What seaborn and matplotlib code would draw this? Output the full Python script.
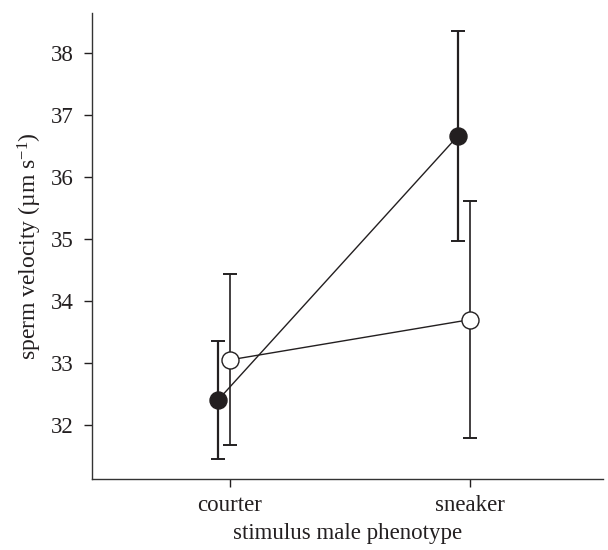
import matplotlib
matplotlib.use("Agg")
import matplotlib.pyplot as plt
import seaborn as sns
import pandas as pd
import numpy as np

# ---- data ----
categories = ["courter", "sneaker"]
groups = ["filled", "open"]
filled_mean = [32.40, 36.67]
filled_err = [0.95, 1.70]
open_mean = [33.05, 33.70]
open_err = [1.38, 1.91]
y_ticks = [32, 33, 34, 35, 36, 37, 38]

sns.set_theme(style="ticks")
plt.rcParams["font.family"] = ["Liberation Serif", "DejaVu Serif"]
plt.rcParams["mathtext.fontset"] = "custom"
plt.rcParams["mathtext.rm"] = "Liberation Serif"
plt.rcParams["mathtext.it"] = "Liberation Serif:italic"

fig = plt.figure(figsize=(6.08, 5.5), dpi=100)
ax = fig.add_axes([0.1508, 0.129, 0.841, 0.847])

offsets = {"filled": -0.05, "open": 0.0}
rows = []
for g, means, errs in [("filled", filled_mean, filled_err), ("open", open_mean, open_err)]:
    for i, c in enumerate(categories):
        rows.append({"group": g, "cat": c, "x": i + offsets[g], "mean": means[i], "err": errs[i]})
df = pd.DataFrame(rows)

# connecting lines
sns.lineplot(data=df, x="x", y="mean", hue="group", palette={"filled": "#231f20", "open": "#231f20"},
             lw=1.0, legend=False, ax=ax, zorder=2, sort=False, estimator=None)

# error bars
for g, lw in [("filled", 1.6), ("open", 1.2)]:
    d = df[df.group == g]
    ax.errorbar(d["x"], d["mean"], yerr=d["err"], fmt="none", ecolor="#231f20",
                elinewidth=lw, capsize=5, capthick=1.4, zorder=3)

# markers
sns.scatterplot(data=df[df.group == "filled"], x="x", y="mean", color="#231f20",
                edgecolor="#231f20", s=150, linewidth=1.0, ax=ax, zorder=4, legend=False)
sns.scatterplot(data=df[df.group == "open"], x="x", y="mean", color="white",
                edgecolor="#231f20", s=150, linewidth=1.0, ax=ax, zorder=4, legend=False)

ax.set_xlim(-0.576, 1.554)
ax.set_ylim(31.125, 38.65)
ax.set_xticks(range(len(categories)))
ax.set_xticklabels(categories)
ax.set_yticks(y_ticks)
ax.set_yticklabels([str(t) for t in y_ticks])
ax.tick_params(axis="both", labelsize=16.5, colors="#231f20", length=5.8, width=1.0, direction="out")
ax.tick_params(axis="y", pad=7)
ax.tick_params(axis="x", pad=6)
sns.despine(ax=ax)
for s in ["left", "bottom"]:
    ax.spines[s].set_color("#333333")
    ax.spines[s].set_linewidth(1.0)

ax.set_xlabel("stimulus male phenotype", fontsize=16.5, color="#231f20", labelpad=5)
ax.set_ylabel(r"sperm velocity (µm s$^{-1}$)", fontsize=17, color="#231f20", labelpad=5)

fig.savefig("out.png", dpi=100)
